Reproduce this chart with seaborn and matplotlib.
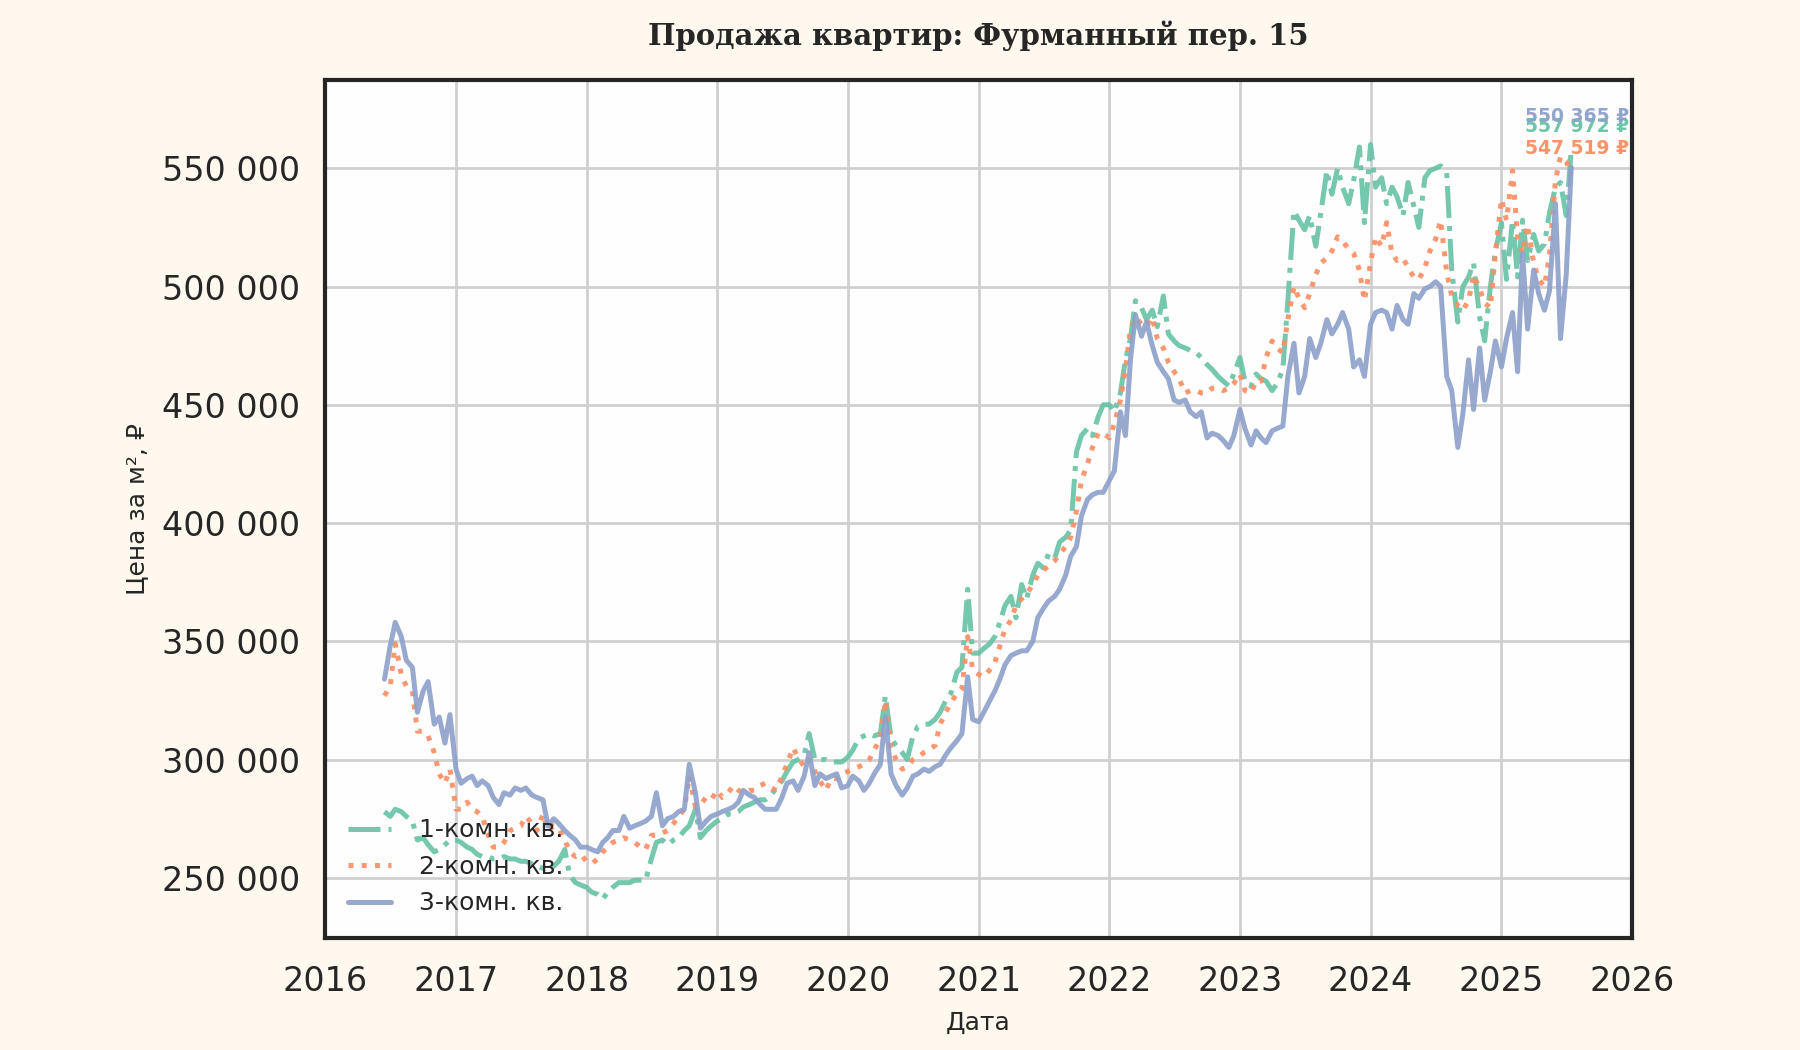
import numpy as np
import pandas as pd
import matplotlib
matplotlib.use("Agg")
import matplotlib.pyplot as plt
import matplotlib.dates as mdates
from matplotlib.ticker import FuncFormatter
import seaborn as sns

# ---------------- data (semi-monthly observations, thousand ₽ per m²) ----------------
dates = pd.date_range("2016-06-15", "2025-07-15", freq="SMS")

series_names = ["1-комн. кв.", "2-комн. кв.", "3-комн. кв."]

room1 = [
    # 2016
    278, 276, 279, 278, 276, 274, 266, 267, 264, 261, 262, 264, 266,
    # 2017
    266, 265, 263, 262, 260, 259, 259, 258, 258, 259, 258, 258,
    257, 257, 256, 255, 254, 253, 255, 257, 262, 251, 248, 247,
    # 2018
    246, 244, 243, 241, 244, 246, 248, 248, 248, 249, 249, 249,
    258, 265, 266, 264, 266, 267, 270, 272, 279, 267, 270, 272,
    # 2019
    274, 275, 277, 277, 278, 280, 281, 282, 283, 283, 285, 288,
    291, 295, 299, 300, 302, 311, 300, 300, 300, 299, 299, 299,
    # 2020
    301, 304, 309, 310, 311, 310, 311, 327, 309, 306, 303, 300,
    310, 314, 315, 315, 317, 320, 325, 328, 337, 339, 372, 345,
    # 2021
    345, 347, 349, 352, 358, 365, 369, 360, 374, 368, 378, 383,
    381, 387, 385, 392, 394, 397, 430, 437, 440, 437, 445, 450,
    # 2022
    450, 447, 455, 469, 478, 494, 491, 486, 490, 483, 496, 480,
    477, 475, 474, 473, 472, 470, 467, 465, 462, 460, 458, 463,
    # 2023
    470, 460, 458, 463, 461, 460, 456, 459, 465, 494, 532, 528,
    524, 530, 517, 531, 549, 539, 550, 542, 535, 545, 559, 527,
    # 2024
    560, 542, 546, 535, 542, 538, 530, 544, 534, 525, 546, 549,
    550, 551, 548, 507, 485, 500, 504, 510, 487, 477, 500, 515,
    # 2025
    527, 503, 528, 504, 528, 511, 522, 515, 518, 531, 542, 544, 530, 557.972,
]

room2 = [
    # 2016
    327, 331, 349, 336, 331, 329, 312, 312, 310, 303, 294, 290, 296,
    # 2017
    279, 279, 282, 279, 278, 276, 268, 263, 263, 265, 270, 271,
    272, 276, 273, 270, 277, 270, 272, 271, 266, 261, 259, 260,
    # 2018
    257, 256, 258, 261, 263, 265, 266, 267, 266, 265, 263, 262,
    268, 268, 269, 270, 273, 276, 279, 293, 280, 281, 284, 283,
    # 2019
    287, 284, 286, 289, 287, 286, 287, 287, 289, 290, 288, 287,
    293, 298, 305, 301, 297, 300, 295, 291, 287, 292, 292, 294,
    # 2020
    295, 296, 297, 298, 300, 304, 309, 325, 305, 300, 296, 297,
    300, 301, 303, 304, 306, 315, 320, 324, 328, 330, 352, 338,
    # 2021
    336, 335, 338, 341, 348, 355, 359, 365, 368, 370, 374, 378,
    380, 382, 384, 387, 390, 394, 405, 418, 425, 432, 438, 438,
    # 2022
    436, 442, 452, 465, 482, 487, 484, 483, 487, 478, 474, 468,
    464, 461, 455, 456, 456, 455, 455, 457, 457, 456, 457, 459,
    # 2023
    463, 456, 455, 460, 460, 470, 477, 474, 472, 486, 500, 495,
    491, 497, 505, 510, 512, 515, 521, 519, 516, 514, 507, 494,
    # 2024
    510, 521, 517, 527, 514, 511, 512, 508, 504, 503, 508, 515,
    520, 528, 506, 496, 492, 490, 494, 505, 499, 493, 491, 514,
    # 2025
    537, 528, 549, 521, 514, 526, 510, 503, 500, 513, 545, 555, 553, 547.519,
]

room3 = [
    # 2016
    334, 348, 358, 352, 342, 339, 320, 329, 333, 315, 318, 307, 319,
    # 2017
    296, 290, 292, 293, 289, 291, 289, 284, 281, 286, 285, 288,
    287, 288, 285, 284, 283, 272, 275, 273, 270, 268, 266, 263,
    # 2018
    263, 262, 261, 265, 267, 270, 270, 276, 271, 272, 273, 274,
    276, 286, 272, 275, 276, 278, 279, 298, 286, 271, 274, 276,
    # 2019
    277, 278, 279, 280, 282, 287, 285, 284, 281, 279, 279, 279,
    284, 290, 291, 287, 293, 303, 289, 294, 292, 293, 294, 288,
    # 2020
    289, 293, 291, 287, 290, 294, 298, 318, 294, 289, 285, 288,
    293, 294, 296, 295, 297, 298, 302, 305, 308, 311, 335, 317,
    # 2021
    316, 320, 325, 329, 334, 340, 344, 345, 346, 346, 350, 360,
    364, 367, 369, 372, 378, 386, 390, 403, 410, 412, 413, 413,
    # 2022
    418, 422, 447, 437, 469, 488, 479, 485, 475, 468, 464, 461,
    452, 451, 452, 447, 445, 447, 436, 438, 437, 435, 432, 437,
    # 2023
    448, 440, 433, 439, 436, 434, 439, 440, 441, 462, 476, 455,
    462, 478, 470, 476, 486, 480, 484, 489, 482, 466, 469, 462,
    # 2024
    484, 489, 490, 489, 482, 492, 486, 484, 497, 495, 499, 500,
    502, 500, 462, 456, 432, 446, 469, 448, 474, 452, 464, 477,
    # 2025
    466, 478, 489, 464, 514, 482, 507, 497, 490, 498, 535, 478, 505, 550.365,
]

title_text = "Продажа квартир: Фурманный пер. 15"
x_label = "Дата"
y_label = "Цена за м², ₽"

# ---------------- style ----------------
sns.set_theme(style="whitegrid")
plt.rcParams["font.family"] = ["DejaVu Sans"]

colors = sns.color_palette("Set2", 3)
styles = ["-.", ":", "-"]

df = pd.DataFrame({
    "date": np.tile(dates, 3),
    "price": np.concatenate([np.array(room1), np.array(room2), np.array(room3)]) * 1000.0,
    "type": np.repeat(series_names, len(dates)),
})

fig = plt.figure(figsize=(12, 7), dpi=150, facecolor="#fff8ef")
ax = fig.add_axes([0.1806, 0.1067, 0.7261, 0.8171])
ax.set_facecolor("#fefefe")

for name, col, ls in zip(series_names, colors, styles):
    sub = df[df["type"] == name]
    sns.lineplot(data=sub, x="date", y="price", color=col, linestyle=ls,
                 linewidth=2.4, alpha=0.9, label=name, ax=ax)

# end-of-series annotations
offsets = [11, 12.5, 24.5]
for name, col, off in zip(series_names, colors, offsets):
    sub = df[df["type"] == name]
    last_x = sub["date"].iloc[-1]
    last_y = sub["price"].iloc[-1]
    txt = f"{last_y:,.0f} ₽".replace(",", " ")
    ax.annotate(txt, xy=(last_x, last_y), xytext=(3, off), textcoords="offset points",
                ha="center", va="center", color=col, fontsize=9, fontweight="bold",
                alpha=0.95)

ax.set_xlim(pd.Timestamp("2016-01-01"), pd.Timestamp("2026-01-01"))
ax.set_ylim(224600, 587300)
ax.xaxis.set_major_locator(mdates.YearLocator())
ax.xaxis.set_major_formatter(mdates.DateFormatter("%Y"))
ax.yaxis.set_major_formatter(FuncFormatter(lambda v, p: f"{int(round(v)):,}".replace(",", " ")))

ax.tick_params(axis="both", labelsize=16, length=0, colors="#262626")
ax.tick_params(axis="y", pad=12)
ax.tick_params(axis="x", pad=13)

ax.grid(True, color="#cfcfcf", linewidth=1.3)
for s in ax.spines.values():
    s.set_visible(True)
    s.set_color("#262626")
    s.set_linewidth(2.0)

ax.set_xlabel(x_label, fontsize=12, color="#262626", labelpad=6)
ax.set_ylabel(y_label, fontsize=12, color="#262626", labelpad=6)
ax.set_title(title_text, fontsize=14, fontweight="bold", family="DejaVu Serif",
             color="#262626", pad=17)

leg = ax.legend(loc="lower left", frameon=False, fontsize=12,
                handlelength=1.75, handletextpad=1.1,
                bbox_to_anchor=(0.0, 0.0))
for t in leg.get_texts():
    t.set_color("#262626")

fig.savefig("out.png", dpi=150, facecolor=fig.get_facecolor())
